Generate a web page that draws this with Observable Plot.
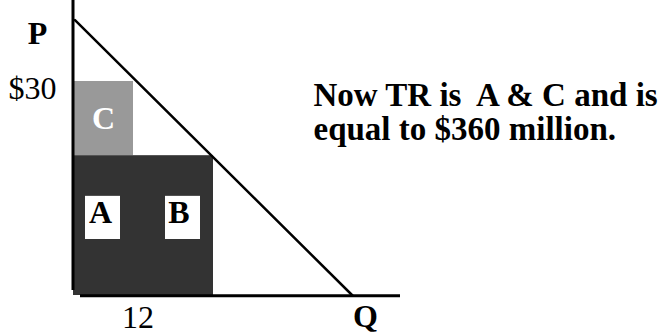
<!DOCTYPE html>
<html>
<head>
<meta charset="utf-8">
<script src="https://cdn.jsdelivr.net/npm/d3@7"></script>
<script src="https://cdn.jsdelivr.net/npm/@observablehq/plot@0.6"></script>
<style>
  html, body { margin: 0; padding: 0; background: #fff; }
  #chart svg { display: block; }
</style>
</head>
<body>
<div id="chart"></div>
<script>
// Demand curve endpoints (Q, P)
const demandQ = [0.3, 55.8];
const demandP = [38.6, 0];
// Price / quantity points
const newPrice = 30, newQty = 12;     // area C + A
const oldPrice = 19.6, oldQty = 28;   // area A + B
// Axis extents
const pAxisTop = 41.4, pAxisBottom = 0.7;
const qAxisStart = 1.4, qAxisEnd = 65.4;
// Region labels
const regionLabels = ["A", "B"];
const regionLabelQ = [5.4, 21.1];
const regionBoxQ = [5.9, 21.9];
const regionLabelP = 10.1;
const cLabel = "C";
// Axis / tick labels
const pLabel = "P", qLabel = "Q";
const priceTick = "$30", qtyTick = "12";
const noteLines = ["Now TR is  A & C and is", "equal to $360 million."];

const demand = demandQ.map((q, i) => ({q, p: demandP[i]}));
const serif = "'Liberation Serif', 'Times New Roman', Times, serif";

const chart = Plot.plot({
  width: 664,
  height: 335,
  margin: 0,
  style: {fontFamily: serif, background: "#fff"},
  x: {domain: [0, 56], range: [73, 353], axis: null},
  y: {domain: [0, 30], range: [295, 81], axis: null},
  marks: [
    // Area C (light gray)
    Plot.rectY([{}], {x1: 0, x2: newQty, y1: oldPrice, y2: newPrice, fill: "#999999"}),
    // Areas A + B (dark)
    Plot.rectY([{}], {x1: 0, x2: oldQty, y1: 0, y2: oldPrice, fill: "#333333"}),
    // White label boxes
    Plot.rect(regionBoxQ, {x1: d => d - 3.5, x2: d => d + 3.5, y1: 7.85, y2: 13.9, fill: "#fff"}),
    // Axes
    Plot.ruleX([-0.1], {y1: pAxisBottom, y2: pAxisTop, stroke: "#000", strokeWidth: 3}),
    Plot.ruleY([-0.05], {x1: qAxisStart, x2: qAxisEnd, stroke: "#000", strokeWidth: 3}),
    // Demand line
    Plot.line(demand, {x: "q", y: "p", stroke: "#000", strokeWidth: 2.5}),
    // Region labels
    Plot.text(regionLabels, {x: (d, i) => regionLabelQ[i], y: regionLabelP, text: d => d,
      lineAnchor: "bottom", fontSize: 32, fontWeight: "bold", fill: "#000"}),
    Plot.text([cLabel], {x: 6, y: 23.3, text: d => d, lineAnchor: "bottom",
      fontSize: 32, fontWeight: "bold", fill: "#fff"}),
    // Axis labels
    Plot.text([pLabel], {x: -7.2, y: 35.3, text: d => d, lineAnchor: "bottom",
      fontSize: 32, fontWeight: "bold", fill: "#000"}),
    Plot.text([qLabel], {x: 58.4, y: -4.45, text: d => d, lineAnchor: "bottom",
      fontSize: 32, fontWeight: "bold", fill: "#000"}),
    Plot.text([priceTick], {x: -3.4, y: 27.6, text: d => d, lineAnchor: "bottom", textAnchor: "end",
      fontSize: 32, fill: "#000"}),
    Plot.text([qtyTick], {x: 12.9, y: -4.6, text: d => d, lineAnchor: "bottom",
      fontSize: 32, fill: "#000"}),
    // Note
    Plot.text([noteLines.join("\n")], {x: 48, y: 26.6, text: d => d, lineAnchor: "bottom",
      textAnchor: "start", lineHeight: 1.03, fontSize: 33, fontWeight: "bold", fill: "#000", dy: 34})
  ]
});
document.getElementById("chart").appendChild(chart);
</script>
</body>
</html>
